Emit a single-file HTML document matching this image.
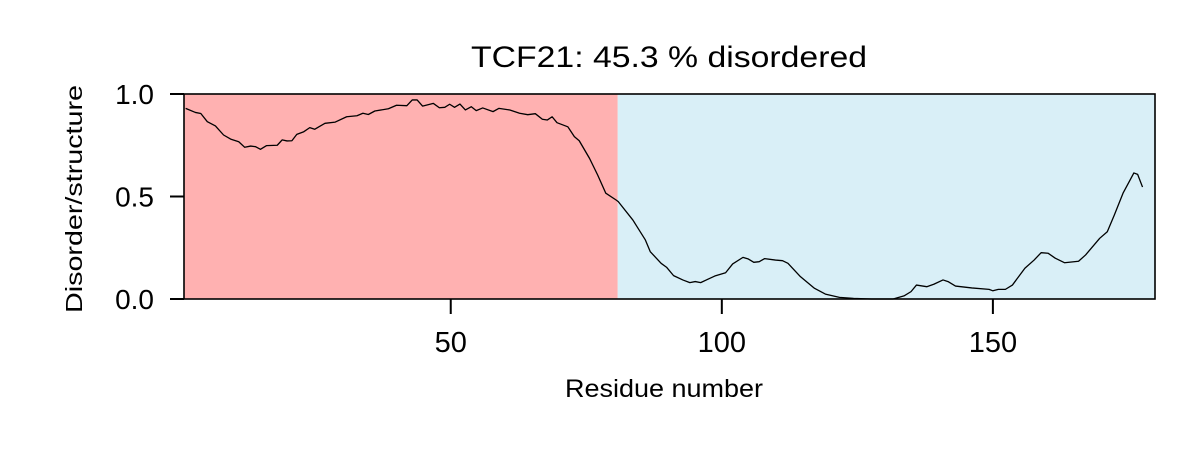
<!DOCTYPE html>
<html><head><meta charset="utf-8"><style>
html,body{margin:0;padding:0;background:#fff;}
svg{display:block;font-family:"Liberation Sans",Arial,sans-serif;}
</style></head><body>
<svg id="chart" width="1200" height="450" viewBox="0 0 1200 450">
<text x="669" y="67" font-size="30" text-anchor="middle" textLength="396" lengthAdjust="spacingAndGlyphs">TCF21: 45.3 % disordered</text>
<g id="regions"></g>
<g id="line"></g>
<rect x="184" y="94" width="971" height="205" fill="none" stroke="#000" stroke-width="1.6"/>
<g id="xticks"></g>
<g id="yticks"></g>
<text x="664" y="397" font-size="25" text-anchor="middle" textLength="198" lengthAdjust="spacingAndGlyphs">Residue number</text>
<text transform="translate(82,199) rotate(-90)" font-size="23" text-anchor="middle" textLength="228" lengthAdjust="spacingAndGlyphs">Disorder/structure</text>
</svg>
<script>
const residues = [1.1,2.9,3.9,5.1,6.6,8.1,9.4,10.9,12.0,13.1,14.0,14.9,16.0,18.0,18.9,19.8,20.7,21.6,22.9,24.0,24.9,26.8,28.7,30.8,32.7,33.8,34.8,36.0,38.5,40.0,41.9,42.9,43.8,44.8,46.8,47.9,48.9,49.8,50.7,51.7,52.7,53.8,54.7,55.9,57.8,58.9,60.9,62.7,64.2,65.6,66.9,67.8,68.7,69.6,71.6,72.8,73.7,75.6,77.1,78.6,80.5,80.9,83.6,85.9,86.8,88.8,89.8,91.1,92.8,94.1,95.1,96.1,97.4,98.7,100.7,102.0,103.9,104.9,105.9,106.9,107.9,109.9,111.2,112.2,114.5,117.1,119.1,121.7,124.3,127.6,131.6,133.6,134.9,135.9,137.8,139.1,140.8,141.8,143.1,146.1,149.3,150.0,151.0,152.3,153.6,155.9,157.6,158.9,160.2,161.5,163.2,165.8,167.1,169.7,171.1,172.4,174.0,175.3,176.0,176.7,177.6];
const scores = [0.93,0.91,0.905,0.865,0.844,0.80,0.78,0.767,0.74,0.746,0.743,0.73,0.748,0.75,0.776,0.771,0.772,0.803,0.816,0.836,0.828,0.857,0.863,0.889,0.894,0.906,0.90,0.917,0.928,0.945,0.943,0.971,0.971,0.941,0.954,0.933,0.935,0.95,0.935,0.951,0.922,0.938,0.919,0.932,0.914,0.93,0.922,0.906,0.899,0.904,0.877,0.873,0.889,0.86,0.84,0.792,0.772,0.686,0.605,0.516,0.483,0.475,0.385,0.288,0.231,0.174,0.155,0.114,0.093,0.08,0.085,0.08,0.096,0.112,0.128,0.171,0.203,0.195,0.179,0.182,0.197,0.19,0.187,0.174,0.109,0.052,0.024,0.008,0.003,0,0,0.015,0.036,0.068,0.06,0.072,0.093,0.084,0.063,0.054,0.047,0.04,0.047,0.047,0.068,0.15,0.19,0.226,0.223,0.199,0.177,0.184,0.215,0.296,0.328,0.41,0.516,0.58,0.615,0.608,0.546];
const xTickValues = [50,100,150];
const yTickValues = [0,0.5,1];
const yTickLabels = ["0.0","0.5","1.0"];
const disorderEnd = 80.8;
const xMin = 0.8, xMax = 179.9;

const NS = "http://www.w3.org/2000/svg";
const L=184,R=1155,T=94,B=299;
const xs = v => L + (v - xMin) / (xMax - xMin) * (R - L);
const ys = v => B - v * (B - T);
function mk(tag, attrs, parent){const e=document.createElementNS(NS,tag);for(const k in attrs)e.setAttribute(k,attrs[k]);parent.appendChild(e);return e;}

const reg = document.getElementById('regions');
const r1 = mk('rect',{x:L,y:T,width:xs(disorderEnd)-L,height:B-T,fill:'#ffb1b1'},reg);


const r2 = mk('rect',{x:xs(disorderEnd),y:T,width:R-xs(disorderEnd),height:B-T,fill:'#d9eff7'},reg);



const d = residues.map((r,i)=>(i?'L':'M')+xs(r).toFixed(2)+','+ys(scores[i]).toFixed(2)).join(' ');
const path = mk('path',{d:d,fill:'none',stroke:'#000','stroke-width':1.3,'stroke-linejoin':'round'},document.getElementById('line'));



const xg = document.getElementById('xticks');
xTickValues.forEach(v=>{
  const t = mk('line',{x1:xs(v),x2:xs(v),y1:B,y2:B+15,stroke:'#000','stroke-width':2},xg);
  
  
  const tx = mk('text',{x:xs(v),y:352,'font-size':29,'text-anchor':'middle'},xg);
  tx.textContent = v;
  
  
});
const yg = document.getElementById('yticks');
yTickValues.forEach((v,i)=>{
  const t = mk('line',{x1:L-14,x2:L,y1:ys(v),y2:ys(v),stroke:'#000','stroke-width':2},yg);
  
  
  const tx = mk('text',{x:L-30,y:ys(v)+10,'font-size':28,'text-anchor':'end'},yg);
  tx.textContent = yTickLabels[i];
  
  
});
</script>
</body></html>
